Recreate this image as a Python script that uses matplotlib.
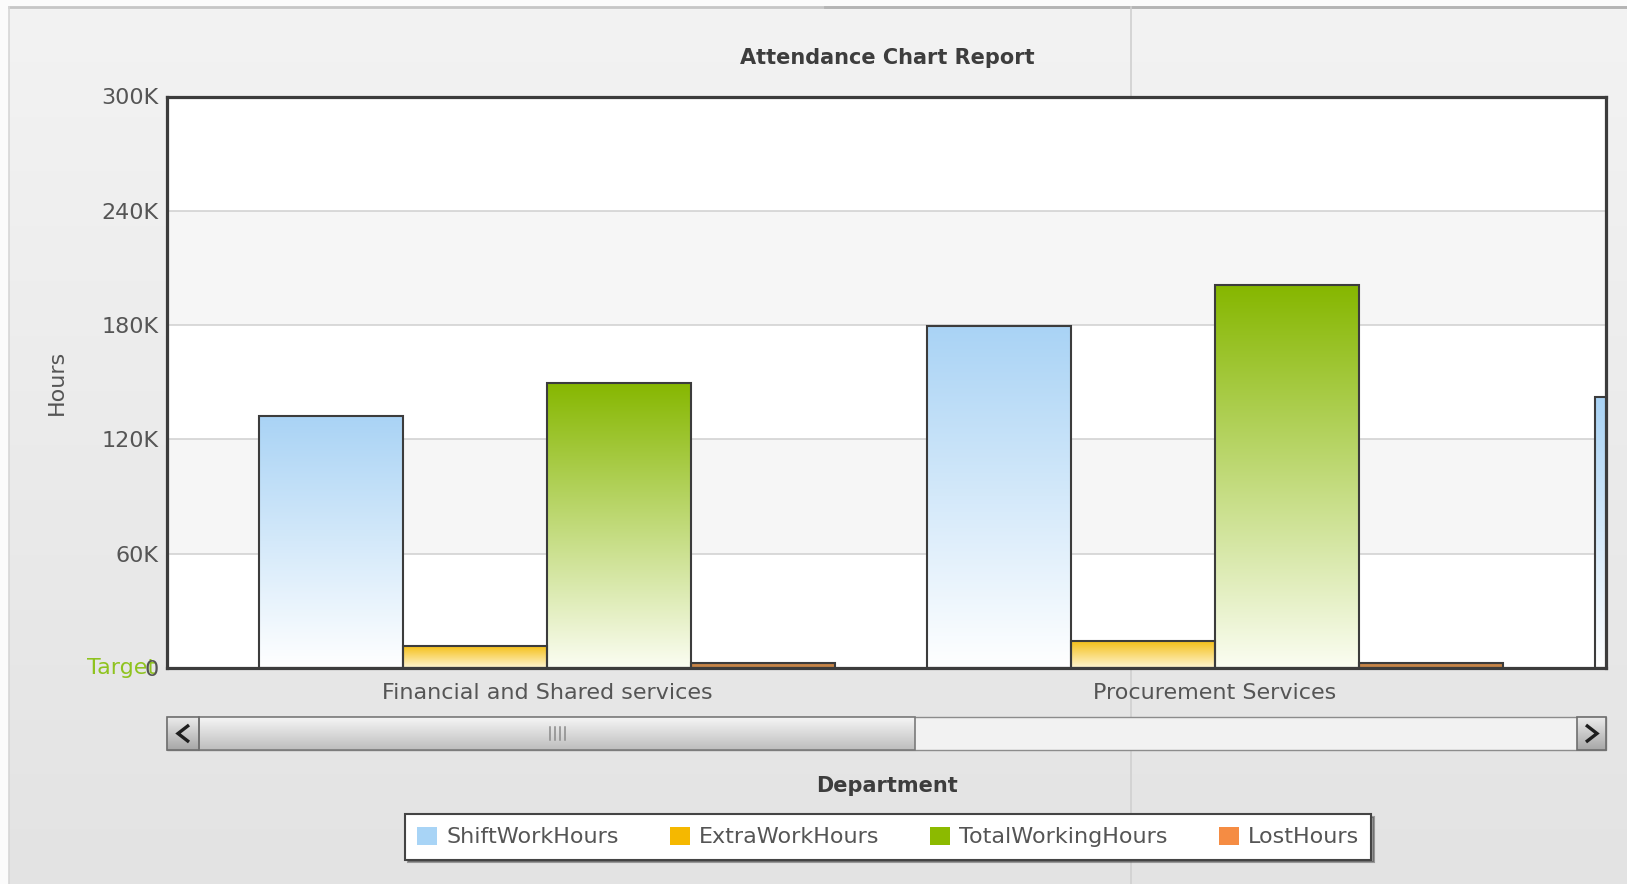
import numpy as np
import matplotlib
matplotlib.use("Agg")
import matplotlib.pyplot as plt
from matplotlib.colors import to_rgb
from matplotlib.patches import Rectangle, Patch
from matplotlib.ticker import FuncFormatter

# ---------------- data ----------------
departments = ["Financial and Shared services", "Procurement Services", ""]
series_names = ["ShiftWorkHours", "ExtraWorkHours", "TotalWorkingHours", "LostHours"]
shift_work = [132400, 179600, 142000]
extra_work = [11700, 14200, np.nan]
total_working = [149700, 200900, np.nan]
lost_hours = [2800, 2700, np.nan]
y_ticks = [0, 60000, 120000, 180000, 240000, 300000]
target_value = 0

# ---------------- styling ----------------
W, H = 1627, 884
FONT = "DejaVu Sans"
TEXT = "#555555"
EDGE = "#3c3c3c"
FS = 16
top_colors = ["#a9d3f5", "#f4be12", "#86b700", "#b97a42"]
bottom_colors = ["#ffffff", "#fff5d2", "#fbfdf2", "#d08c4c"]
legend_colors = ["#a8d4f6", "#f5b800", "#8cba00", "#f58c43"]

plt.rcParams["font.family"] = [FONT]

fig = plt.figure(figsize=(W / 100, H / 100), dpi=100)
fig.patch.set_facecolor("#fbfbfb")

# background canvas in pixel coordinates
bg = fig.add_axes([0, 0, 1, 1])
bg.set_xlim(0, W)
bg.set_ylim(H, 0)
bg.axis("off")
bg.set_zorder(0)


def vertical_gradient(c_top, c_bottom, n=256):
    t = np.linspace(0, 1, n)[:, None]
    a, b = np.array(to_rgb(c_top)), np.array(to_rgb(c_bottom))
    return (a[None, None, :] * (1 - t[..., None]) + b[None, None, :] * t[..., None])


bg.imshow(vertical_gradient("#f3f3f3", "#e3e3e3"), extent=(9, W, H, 7),
          aspect="auto", origin="upper", zorder=0)
bg.plot([9, W], [7, 7], color="#c6c6c6", lw=2, zorder=1)
bg.plot([825, W], [7, 7], color="#b4b4b4", lw=2, zorder=1)
bg.plot([9, 9], [7, H], color="#d6d6d6", lw=1.2, zorder=1)
bg.plot([1131, 1131], [7, H], color="#d0d0d0", lw=1.2, zorder=1)

# ---------------- main plot ----------------
left, right, top, bottom = 167, 1606, 96.5, 668
ax = fig.add_axes([left / W, 1 - bottom / H, (right - left) / W, (bottom - top) / H])
ax.set_zorder(1)
ax.set_facecolor("white")

for i, (lo, hi) in enumerate(zip(y_ticks[:-1], y_ticks[1:])):
    ax.axhspan(lo, hi, color="white" if i % 2 == 0 else "#f6f6f6", zorder=0, lw=0)
for v in y_ticks[1:-1]:
    ax.axhline(v, color="#cfcfcf", lw=1.1, zorder=0.5)

x = np.arange(len(departments))
bar_w = 0.2157
all_series = [shift_work, extra_work, total_working, lost_hours]

for k, values in enumerate(all_series):
    vals = np.array(values, dtype=float)
    ok = np.isfinite(vals)
    xs = x[ok] + (k - 1.5) * bar_w
    bars = ax.bar(xs, vals[ok], bar_w, color="none", edgecolor=EDGE,
                  linewidth=1.5, zorder=3, align="center")
    grad = vertical_gradient(top_colors[k], bottom_colors[k])
    for b in bars:
        x0, y0 = b.get_xy()
        im = ax.imshow(grad, extent=(x0, x0 + b.get_width(), y0, y0 + b.get_height()),
                       origin="upper", aspect="auto", zorder=2.5, interpolation="bilinear")
        # clip to the bar outline while keeping the axes clip box
        im.set_clip_path(b.get_path(), b.get_transform())

ax.set_yticks(y_ticks)
ax.yaxis.set_major_formatter(FuncFormatter(lambda v, p: "0" if v == 0 else f"{int(v / 1000)}K"))
ax.set_xticks(x)
ax.set_xticklabels(departments)
# visible window of the scrolled category axis
ax.set_xlim(-0.5696, 1.5856)
ax.set_ylim(0, 300000)
ax.tick_params(axis="y", length=0, pad=6, labelsize=FS, labelcolor=TEXT)
ax.tick_params(axis="x", length=0, pad=11, labelsize=FS, labelcolor=TEXT)
for s in ax.spines.values():
    s.set_color(EDGE)
    s.set_linewidth(2.3)
    s.set_zorder(6)

ax.annotate("Target", xy=(0, target_value), xycoords=("axes fraction", "data"),
            xytext=(-8, 0), textcoords="offset points", ha="right", va="center",
            color="#8fc31f", fontsize=FS, zorder=1, annotation_clip=False)

# ---------------- titles ----------------
bg.text(887, 58, "Attendance Chart Report", ha="center", va="center",
        fontsize=15, fontweight="bold", color="#3d3d3d")
bg.text(57, 382, "Hours", rotation=90, ha="center", va="center",
        fontsize=FS, color=TEXT)
bg.text(887, 786, "Department", ha="center", va="center",
        fontsize=15, fontweight="bold", color="#3d3d3d")

# ---------------- scrollbar ----------------
sb_top, sb_bot = 717, 750
bg.add_patch(Rectangle((left, sb_top), right - left, sb_bot - sb_top,
                       fc="#f2f2f2", ec="#8c8c8c", lw=1, zorder=2))
bg.imshow(vertical_gradient("#f6f6f6", "#bdbdbd"), extent=(199, 915, sb_bot, sb_top),
          aspect="auto", origin="upper", zorder=3)
bg.add_patch(Rectangle((199, sb_top), 915 - 199, sb_bot - sb_top,
                       fc="none", ec="#7a7a7a", lw=1.2, zorder=4))
for bx0, bx1 in [(left, 199), (1577, right)]:
    bg.imshow(vertical_gradient("#ececec", "#a6a6a6"), extent=(bx0, bx1, sb_bot, sb_top),
              aspect="auto", origin="upper", zorder=3)
    bg.add_patch(Rectangle((bx0, sb_top), bx1 - bx0, sb_bot - sb_top,
                           fc="none", ec="#6e6e6e", lw=1.2, zorder=4))
bg.plot([189, 178, 189], [725, 733.5, 742], color="#1e1e1e", lw=2.4, zorder=5,
        solid_capstyle="butt", solid_joinstyle="miter")
bg.plot([1586, 1597, 1586], [725, 733.5, 742], color="#1e1e1e", lw=2.4, zorder=5,
        solid_capstyle="butt", solid_joinstyle="miter")
for gx in [550, 555, 560, 565]:
    bg.plot([gx, gx], [727, 740], color="#8a8a8a", lw=1.1, zorder=5)

# ---------------- legend ----------------
px_per_em = FS * 100 / 72
handles = [Patch(facecolor=c, edgecolor="none", label=n)
           for c, n in zip(legend_colors, series_names)]
leg = fig.legend(handles=handles, loc="center", bbox_to_anchor=(888 / W, 1 - 837 / H),
                 ncol=4, frameon=True, fancybox=False, shadow=True, fontsize=FS,
                 handlelength=20 / px_per_em, handleheight=20 / px_per_em,
                 handletextpad=9 / px_per_em, columnspacing=51 / px_per_em,
                 borderpad=0.55, labelcolor=TEXT)
leg.get_frame().set_edgecolor("#444444")
leg.get_frame().set_linewidth(1.5)
leg.get_frame().set_facecolor("white")

fig.savefig("out.png", dpi=100)
